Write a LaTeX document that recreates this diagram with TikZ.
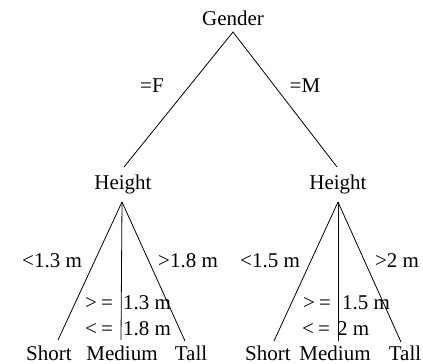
\documentclass[tikz,border=0pt]{standalone}
\usepackage{fontspec}
\setmainfont{Liberation Serif}
\begin{document}
\begin{tikzpicture}[x=1pt,y=-1pt,
  lbl/.style={inner sep=0pt,anchor=base,font=\fontsize{21}{25}\selectfont},
  lblw/.style={lbl,anchor=base west},
  edge/.style={line width=0.8pt,black}]
\useasboundingbox (0,0) rectangle (423,364);
% nodes
\node[lbl] (gender) at (233,25) {Gender};
\node[lbl] (hl) at (123,189) {Height};
\node[lbl] (hr) at (338,189) {Height};
\node[lbl] (ls) at (49,360) {Short};
\node[lbl] (lm) at (122,360) {Medium};
\node[lbl] (lt) at (191,360) {Tall};
\node[lbl] (rs) at (268,360) {Short};
\node[lbl] (rm) at (335,360) {Medium};
\node[lbl] (rt) at (405,360) {Tall};
% edge labels
\node[lbl] (ef) at (152,92) {=F};
\node[lbl] (em) at (305,92) {=M};
\node[lbl] (e1) at (52,267) {<1.3 m};
\node[lbl] (e2) at (188,267) {>1.8 m};
\node[lblw] (e3) at (85,309) {\makebox[38pt][l]{>\kern4pt=}1.3 m};
\node[lblw] (e4) at (85,335) {\makebox[38pt][l]{<\kern4pt=}1.8 m};
\node[lbl] (e5) at (270,267) {<1.5 m};
\node[lbl] (e6) at (397,267) {>2 m};
\node[lblw] (e7) at (303,309) {\makebox[39pt][l]{>\kern4pt=}1.5 m};
\node[lblw] (e8) at (302,335) {\makebox[35pt][l]{<\kern4pt=}2 m};
% connector ends
\coordinate (g0) at (233,32);
\coordinate (hl1) at (124,167);
\coordinate (hr1) at (337,167);
\coordinate (hl0) at (122,202);
\coordinate (hr0) at (338,202);
\coordinate (ls1) at (58,340);
\coordinate (lm1) at (121,340);
\coordinate (lt1) at (185,341);
\coordinate (rs1) at (274,341);
\coordinate (rm1) at (338,341);
\coordinate (rt1) at (401,342);
% connectors
\draw[edge] (hl1) -- (g0) -- (hr1);
\draw[edge] (hl0) -- (ls1);
\draw[edge] (hl0) -- (lm1);
\draw[edge] (hl0) -- (lt1);
\draw[edge] (hr0) -- (rs1);
\draw[edge] (hr0) -- (rm1);
\draw[edge] (hr0) -- (rt1);
\end{tikzpicture}
\end{document}
